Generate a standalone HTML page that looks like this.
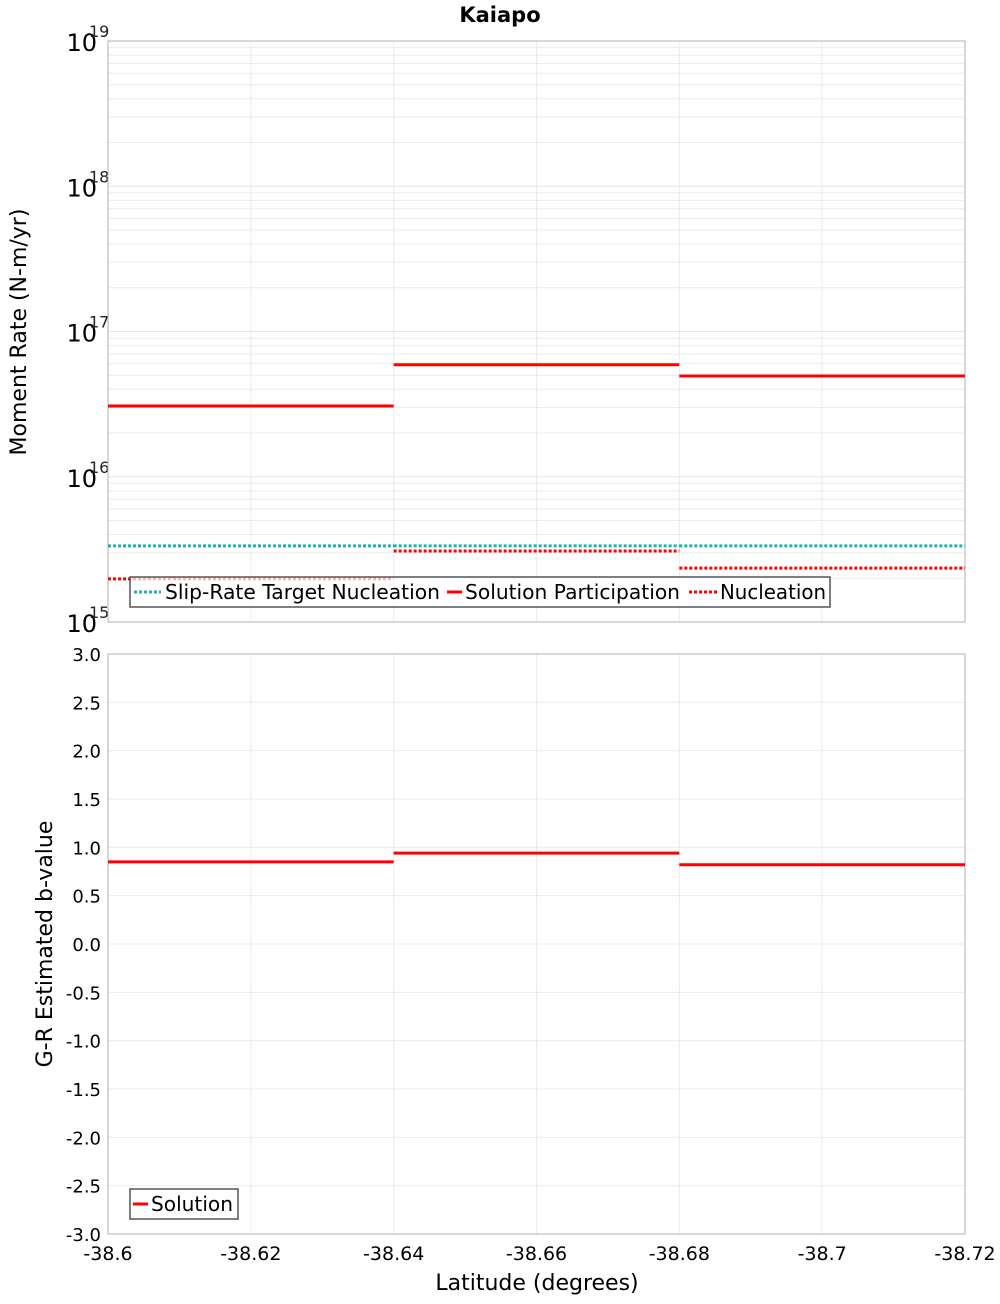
<!DOCTYPE html>
<html><head><meta charset="utf-8"><style>
body{margin:0;background:#fff;font-family:"DejaVu Sans","Liberation Sans",sans-serif}
svg text{font-family:"DejaVu Sans","Liberation Sans",sans-serif}
</style></head><body>
<svg id="c" width="1000" height="1300" xmlns="http://www.w3.org/2000/svg"></svg>
<script>
const binEdges=[-38.6,-38.64,-38.68,-38.72];
const solutionParticipation=[3.07e16,5.9e16,4.94e16];
const slipRateTarget=[3.34e15,3.34e15,3.34e15];
const nucleation=[1.98e15,3.08e15,2.35e15];
const bValues=[0.85,0.94,0.82];
const xTicks=[-38.6,-38.62,-38.64,-38.66,-38.68,-38.7,-38.72];
const xTickLabels=["-38.6","-38.62","-38.64","-38.66","-38.68","-38.7","-38.72"];
const logDecades=[15,16,17,18,19];
const bTicks=[3,2.5,2,1.5,1,0.5,0,-0.5,-1,-1.5,-2,-2.5,-3];
const bTickLabels=["3.0","2.5","2.0","1.5","1.0","0.5","0.0","-0.5","-1.0","-1.5","-2.0","-2.5","-3.0"];

const svg=document.getElementById('c');const NS='http://www.w3.org/2000/svg';
function mk(t,a,p){const e=document.createElementNS(NS,t);for(const k in a)e.setAttribute(k,a[k]);(p||svg).appendChild(e);return e;}
const L=108,R=965,T1=41,B1=622,T2=654,B2=1234;
const xs=v=>L+(v-(-38.6))/(-0.12)*(R-L);
const ys1=v=>B1-(Math.log10(v)-15)/4*(B1-T1);
const ys2=v=>B2-(v+3)/6*(B2-T2);

for(const d of [15,16,17,18])for(let m=2;m<=9;m++){const y=ys1(m*Math.pow(10,d));
const g=mk('line',{x1:L,x2:R,y1:y,y2:y,stroke:'#ebebeb','stroke-width':1});
}
for(const d of logDecades){const y=ys1(Math.pow(10,d));
const g=mk('line',{x1:L,x2:R,y1:y,y2:y,stroke:'#e6e6e6'});

const t=mk('text',{x:97,y:y+10,'text-anchor':'end','font-size':24});t.textContent='10';

const s=mk('text',{x:89,y:y-4,'font-size':16,fill:'#222'});s.textContent=String(d);
}
for(const v of bTicks){const y=ys2(v);
const g=mk('line',{x1:L,x2:R,y1:y,y2:y,stroke:'#ebebeb'});
}
bTicks.forEach((v,i)=>{const t=mk('text',{x:101,y:ys2(v)+7,'text-anchor':'end','font-size':18});t.textContent=bTickLabels[i];
});
xTicks.forEach((v,i)=>{const x=xs(v);
for(const [a,b] of [[T1,B1],[T2,B2]]){const g=mk('line',{x1:x,x2:x,y1:a,y2:b,stroke:'#ebebeb'});
}
const t=mk('text',{x:x,y:1260,'text-anchor':'middle','font-size':19});t.textContent=xTickLabels[i];
});
for(const [a,b,n] of [[T1,B1,'top-plot-frame'],[T2,B2,'bottom-plot-frame']]){
const r=mk('rect',{x:L,y:a,width:R-L,height:b-a,fill:'none',stroke:'#b0b0b0'});
}

function steps(vals,ysf,style,name){vals.forEach((v,i)=>{
const l=mk('line',Object.assign({x1:xs(binEdges[i]),x2:xs(binEdges[i+1]),y1:ysf(v),y2:ysf(v),'stroke-width':3},style));
});}
steps(slipRateTarget,ys1,{stroke:'#20b2aa','stroke-dasharray':'3,2'},'slip-rate-target');
steps(solutionParticipation,ys1,{stroke:'#ff0000'},'solution-participation');
steps(nucleation,ys1,{stroke:'#ff0000','stroke-dasharray':'3,2'},'nucleation');
steps(bValues,ys2,{stroke:'#ff0000'},'b-value');

// items: [label,color,dash,lineX1,lineX2,textX]
function legend(x,y,w,items,name){const g=mk('g',{});
mk('rect',{x:x,y:y,width:w,height:30,fill:'rgba(255,255,255,0.7)',stroke:'#555','stroke-width':1.5},g);
items.forEach(it=>{mk('line',{x1:it[3],x2:it[4],y1:y+15,y2:y+15,stroke:it[1],'stroke-width':3,'stroke-dasharray':it[2]||''},g);
const t=mk('text',{x:it[5],y:y+22,'font-size':20,textLength:it[6],lengthAdjust:'spacingAndGlyphs'},g);t.textContent=it[0];});}
legend(130,577,700,[['Slip-Rate Target Nucleation','#20b2aa','3,2',134,161,165,275],['Solution Participation','#ff0000','',447,462,465,215],['Nucleation','#ff0000','3,2',689,717,720,106]],'top-legend');
legend(130,1189,108,[['Solution','#ff0000','',133,148,151,82]],'bottom-legend');

let t=mk('text',{x:500,y:22,'text-anchor':'middle','font-size':21,'font-weight':'bold'});t.textContent='Kaiapo';

t=mk('text',{x:537,y:1290,'text-anchor':'middle','font-size':22});t.textContent='Latitude (degrees)';

t=mk('text',{x:0,y:0,'text-anchor':'middle','font-size':22,transform:'translate(26,332) rotate(-90)'});t.textContent='Moment Rate (N-m/yr)';

t=mk('text',{x:0,y:0,'text-anchor':'middle','font-size':22,transform:'translate(52,944) rotate(-90)'});t.textContent='G-R Estimated b-value';

</script>
</body></html>
